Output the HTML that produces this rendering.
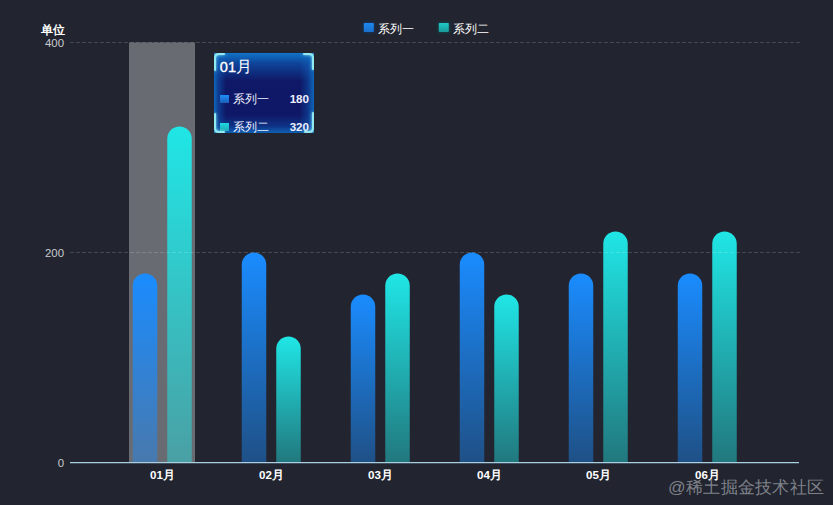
<!DOCTYPE html>
<html><head><meta charset="utf-8">
<style>
html,body{margin:0;padding:0;}
body{width:833px;height:505px;background:#22252f;position:relative;overflow:hidden;font-family:"Liberation Sans",sans-serif;}
svg{position:absolute;left:0;top:0;}
.t{position:absolute;white-space:nowrap;line-height:1;}
.yl{position:absolute;width:40px;text-align:right;left:24px;color:#c8cad0;font-size:11.4px;line-height:12px;}
.xl{position:absolute;width:60px;text-align:center;top:468.5px;color:#fff;font-size:11.6px;line-height:12px;font-weight:bold;}
.leg{position:absolute;top:22.5px;color:#fff;font-size:11.5px;line-height:12px;font-weight:500;}
.tip{position:absolute;left:214px;top:52.5px;width:100px;height:80px;overflow:hidden;
 background:
  linear-gradient(to bottom, rgba(16,116,200,1) 0px, rgba(14,100,190,0.6) 10px, rgba(14,80,170,0) 28px),
  linear-gradient(to top, rgba(14,110,196,0.85) 0px, rgba(14,100,190,0.35) 7px, rgba(14,80,170,0) 18px),
  linear-gradient(to right, rgba(14,112,198,0.9) 0px, rgba(14,100,190,0.5) 4px, rgba(14,80,170,0) 12px),
  linear-gradient(to left, rgba(14,110,196,0.9) 0px, rgba(14,100,190,0.4) 6px, rgba(14,80,170,0) 14px),
  #0f1866;}
.tip svg{position:absolute;left:0;top:0;}
.tip .ti{position:absolute;left:5.8px;top:6.6px;color:#fff;font-size:16px;line-height:16px;}
.tip .row{position:absolute;left:5px;width:90px;color:#eef0ff;font-size:11.5px;line-height:12px;}
.tip .mk{position:absolute;left:1px;top:1.5px;width:8.5px;height:8.5px;}
.tip .nm{position:absolute;left:14px;top:0;}
.tip .vl{position:absolute;right:0px;top:-0.3px;font-weight:bold;font-size:11.6px;}
.wm{position:absolute;left:668px;top:476.5px;color:#7e8189;font-size:17.4px;line-height:20px;letter-spacing:0.3px;}
</style></head><body>
<svg width="833" height="505" viewBox="0 0 833 505">
<defs>
<linearGradient id="g1" x1="0" y1="0" x2="0" y2="1">
<stop offset="0" stop-color="#1a8cff"/><stop offset="1" stop-color="#1a8cff" stop-opacity="0.42"/></linearGradient>
<linearGradient id="g2" x1="0" y1="0" x2="0" y2="1">
<stop offset="0" stop-color="#20e6e6"/><stop offset="1" stop-color="#20e6e6" stop-opacity="0.43"/></linearGradient>
</defs>
<rect x="129" y="42.5" width="66" height="420" fill="#696b72"/>
<path d="M132.75,462.5 L132.75,285.75 A12.25,12.25 0 0 1 157.25,285.75 L157.25,462.5 Z" fill="url(#g1)"/><path d="M167.25,462.5 L167.25,138.75 A12.25,12.25 0 0 1 191.75,138.75 L191.75,462.5 Z" fill="url(#g2)"/><path d="M241.75,462.5 L241.75,264.75 A12.25,12.25 0 0 1 266.25,264.75 L266.25,462.5 Z" fill="url(#g1)"/><path d="M276.25,462.5 L276.25,348.75 A12.25,12.25 0 0 1 300.75,348.75 L300.75,462.5 Z" fill="url(#g2)"/><path d="M350.75,462.5 L350.75,306.75 A12.25,12.25 0 0 1 375.25,306.75 L375.25,462.5 Z" fill="url(#g1)"/><path d="M385.25,462.5 L385.25,285.75 A12.25,12.25 0 0 1 409.75,285.75 L409.75,462.5 Z" fill="url(#g2)"/><path d="M459.75,462.5 L459.75,264.75 A12.25,12.25 0 0 1 484.25,264.75 L484.25,462.5 Z" fill="url(#g1)"/><path d="M494.25,462.5 L494.25,306.75 A12.25,12.25 0 0 1 518.75,306.75 L518.75,462.5 Z" fill="url(#g2)"/><path d="M568.75,462.5 L568.75,285.75 A12.25,12.25 0 0 1 593.25,285.75 L593.25,462.5 Z" fill="url(#g1)"/><path d="M603.25,462.5 L603.25,243.75 A12.25,12.25 0 0 1 627.75,243.75 L627.75,462.5 Z" fill="url(#g2)"/><path d="M677.75,462.5 L677.75,285.75 A12.25,12.25 0 0 1 702.25,285.75 L702.25,462.5 Z" fill="url(#g1)"/><path d="M712.25,462.5 L712.25,243.75 A12.25,12.25 0 0 1 736.75,243.75 L736.75,462.5 Z" fill="url(#g2)"/>
<g stroke="rgba(255,255,255,0.16)" stroke-width="1" stroke-dasharray="4 2">
<line x1="70" y1="42.5" x2="800" y2="42.5"/>
<line x1="70" y1="252.5" x2="800" y2="252.5"/>
</g>
<line x1="70" y1="462.6" x2="799" y2="462.6" stroke="#a8d0e2" stroke-width="1.4"/>
</svg>
<div class="t" style="left:41px;top:24.6px;color:#fff;font-size:11.5px;font-weight:bold;">单位</div>
<div class="yl" style="top:37px;">400</div>
<div class="yl" style="top:247px;">200</div>
<div class="yl" style="top:457px;">0</div>
<div class="xl" style="left:132.55px">01月</div><div class="xl" style="left:241.55px">02月</div><div class="xl" style="left:350.55px">03月</div><div class="xl" style="left:459.55px">04月</div><div class="xl" style="left:568.55px">05月</div><div class="xl" style="left:677.55px">06月</div>
<svg width="833" height="505" style="pointer-events:none">
<defs>
<filter id="lb" x="-50%" y="-50%" width="200%" height="200%"><feGaussianBlur stdDeviation="1.5"/></filter>
<linearGradient id="lg1" x1="0" y1="0" x2="0" y2="1"><stop offset="0" stop-color="#2088f0"/><stop offset="1" stop-color="#1a70cc"/></linearGradient>
<linearGradient id="lg2" x1="0" y1="0" x2="0" y2="1"><stop offset="0" stop-color="#20c8c8"/><stop offset="1" stop-color="#1a9a9a"/></linearGradient>
</defs>
<rect x="363" y="22" width="12" height="11" rx="2" fill="#0a3a80" opacity="0.6" filter="url(#lb)"/><rect x="363.8" y="23" width="10" height="9" rx="0.8" fill="url(#lg1)"/>
<rect x="438" y="22" width="12" height="11" rx="2" fill="#0a5a60" opacity="0.5" filter="url(#lb)"/><rect x="438.8" y="23" width="10" height="9" rx="0.8" fill="url(#lg2)"/>
</svg>
<div class="leg" style="left:378px">系列一</div>
<div class="leg" style="left:453px">系列二</div>
<div class="tip">
 <div class="ti"><span style="font-size:14.6px;-webkit-text-stroke:0.35px #fff;">01</span>月</div>
 <div class="row" style="top:40.5px"><span class="mk" style="background:linear-gradient(#1e8ef8,#1a5fb8)"></span><span class="nm">系列一</span><span class="vl">180</span></div>
 <div class="row" style="top:68.5px"><span class="mk" style="background:linear-gradient(#20d8e0,#1aa8b8)"></span><span class="nm">系列二</span><span class="vl">320</span></div>
 <svg width="100" height="80" viewBox="0 0 100 80">
 <defs><filter id="glow" x="-50%" y="-50%" width="200%" height="200%"><feGaussianBlur stdDeviation="1.5" result="b"/><feMerge><feMergeNode in="b"/><feMergeNode in="SourceGraphic"/></feMerge></filter></defs>
 <g fill="none" stroke="#92e8f0" stroke-width="2" stroke-linecap="round" filter="url(#glow)">
  <path d="M1,17 L1,5 Q1,1 5,1 L10,1"/>
  <path d="M90,1 L95,1 Q99,1 99,5 L99,16"/>
  <path d="M1,61 L1,75 Q1,79 5,79 L10,79"/>
  <path d="M91,79 L95,79 Q99,79 99,75 L99,60"/>
 </g>
 </svg>
</div>
<div class="wm">@稀土掘金技术社区</div>
</body></html>
